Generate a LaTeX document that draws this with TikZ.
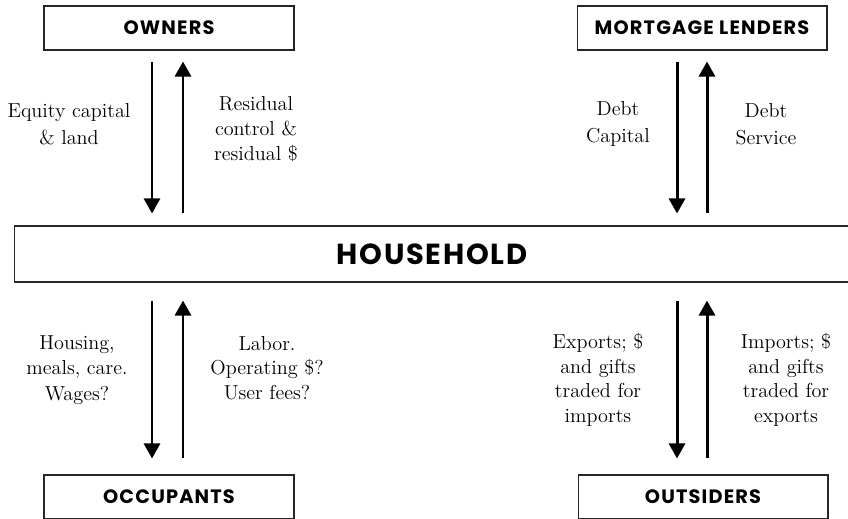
\documentclass[tikz,border=0pt]{standalone}
\usepackage{fontspec}
\usetikzlibrary{arrows.meta,positioning}
\newfontfamily\headfont{Poppins}[LetterSpace=6]

\tikzset{
  party/.style={draw=black!85, line width=0.6pt, minimum width=5cm, minimum height=0.88cm,
    inner sep=0pt, font=\headfont\bfseries\fontsize{11}{13}\selectfont},
  lbl/.style={align=center, inner sep=0pt, font=\fontsize{11.5}{14}\selectfont},
  flow/.style={line width=1.7pt, -{Triangle[length=0.3cm,width=0.32cm]}},
}

\begin{document}
\begin{tikzpicture}[x=0.02cm,y=-0.02cm]
\useasboundingbox (0,0) rectangle (848,518);
\clip (0,0) rectangle (848,518);

% the four parties and the household
\node[party] (owners) at (169,28) {OWNERS};
\node[party] (lenders) at (702,28) {MORTGAGE LENDERS};
\node[party, minimum width=16.72cm, minimum height=1.12cm,
  font=\headfont\bfseries\fontsize{16.5}{18}\selectfont] (household) at (432,254) {HOUSEHOLD};
\node[party] (occupants) at (169,497) {OCCUPANTS};
\node[party] (outsiders) at (703,497) {OUTSIDERS};

% flows above the household
\draw[flow, shorten <=0.22cm, shorten >=0.24cm] ([xshift=-0.34cm]owners.south) -- ([xshift=-0.34cm]owners.south |- household.north);
\draw[flow, shorten <=0.24cm, shorten >=0.22cm] ([xshift=0.28cm]owners.south |- household.north) -- ([xshift=0.28cm]owners.south);
\draw[flow, shorten <=0.22cm, shorten >=0.24cm] ([xshift=-0.5cm]lenders.south) -- ([xshift=-0.5cm]lenders.south |- household.north);
\draw[flow, shorten <=0.24cm, shorten >=0.22cm] ([xshift=0.1cm]lenders.south |- household.north) -- ([xshift=0.1cm]lenders.south);

% flows below the household
\draw[flow, shorten <=0.36cm, shorten >=0.32cm] ([xshift=-0.34cm]occupants.north |- household.south) -- ([xshift=-0.34cm]occupants.north);
\draw[flow, shorten <=0.32cm, shorten >=0.36cm] ([xshift=0.28cm]occupants.north) -- ([xshift=0.28cm]occupants.north |- household.south);
\draw[flow, shorten <=0.36cm, shorten >=0.32cm] ([xshift=-0.52cm]outsiders.north |- household.south) -- ([xshift=-0.52cm]outsiders.north);
\draw[flow, shorten <=0.32cm, shorten >=0.36cm] ([xshift=0.08cm]outsiders.north) -- ([xshift=0.08cm]outsiders.north |- household.south);

% labels
\node[lbl, font=\fontsize{11.5}{15.5}\selectfont] (equity) at (69,124) {Equity capital\\\& land};
\node[lbl] (residual) at (256,129) {Residual\\control \&\\residual \$};
\node[lbl, font=\fontsize{11.5}{15.5}\selectfont] (debtcap) at (618,124) {Debt\\Capital};
\node[lbl, font=\fontsize{11.5}{15.5}\selectfont] (debtsvc) at (766,124) {Debt\\Service};
\node[lbl, font=\fontsize{11.5}{14.5}\selectfont] (housing) at (77,370) {Housing,\\meals, care.\\Wages?};
\node[lbl] (labor) at (267,368) {Labor.\\Operating \$?\\User fees?};
\node[lbl] (exports) at (598,380) {Exports; \$\\and gifts\\traded for\\imports};
\node[lbl] (imports) at (786,380) {Imports; \$\\and gifts\\traded for\\exports};
\end{tikzpicture}
\end{document}
